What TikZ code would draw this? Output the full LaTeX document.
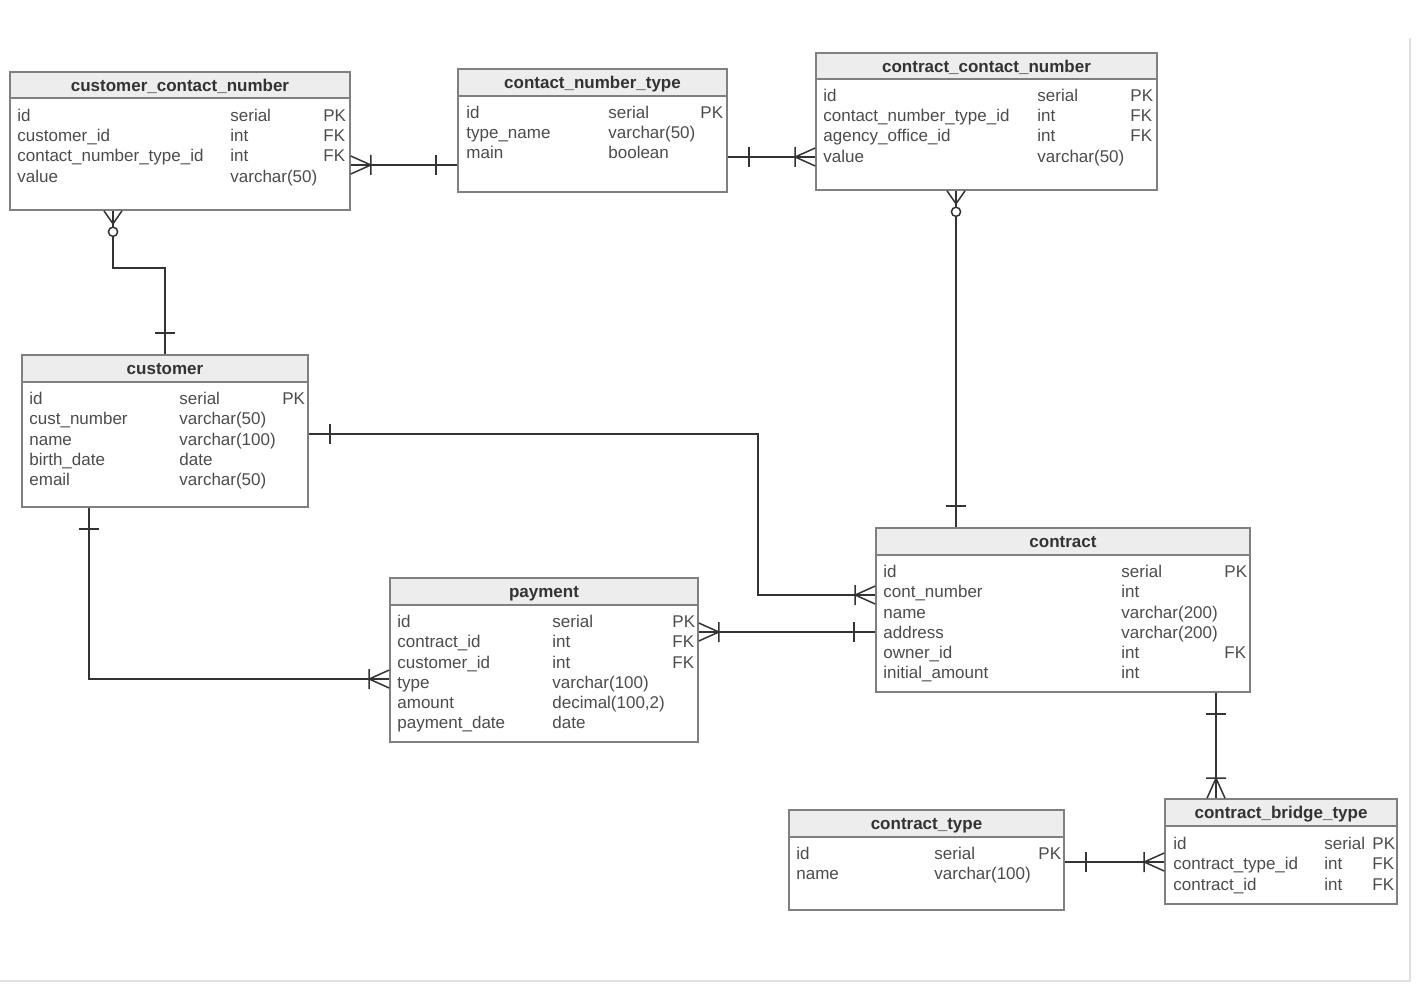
\documentclass[tikz,border=0pt]{standalone}
\usepackage{fontspec}
\setmainfont{Liberation Sans}
\usetikzlibrary{fit,decorations.markings}
\definecolor{boxgray}{gray}{0.5}
\definecolor{headgray}{gray}{0.93}
\definecolor{txtgray}{gray}{0.3}

\begin{document}
\begin{tikzpicture}[x=0.5pt,y=-0.5pt,
  every node/.style={font=\fontsize{8.5}{10}\selectfont},
  tbl/.style={draw=boxgray, line width=0.8pt, fill=white, inner sep=0pt},
  hdr/.style={draw=boxgray, line width=0.8pt, fill=headgray, inner sep=0pt},
  ttl/.style={font=\fontsize{8.5}{10}\selectfont\bfseries, text=black!80, inner sep=0pt, text height=7.2pt, text depth=0.8pt},
  fld/.style={anchor=west, inner sep=0pt, text height=7.2pt, text depth=0.8pt, text=txtgray},
  link/.style={draw=black!80, line width=0.75pt},
  crow start/.style={postaction={decorate, decoration={markings, mark=at position 0 with {\draw[link] (0,4.5pt) -- (10pt,0) -- (0,-4.5pt) (10pt,5pt) -- (10pt,-5pt);}}}},
  crow end/.style={postaction={decorate, decoration={markings, mark=at position 1 with {\draw[link] (0,4.5pt) -- (-10pt,0) -- (0,-4.5pt) (-10pt,5pt) -- (-10pt,-5pt);}}}},
  one start/.style={postaction={decorate, decoration={markings, mark=at position 0 with {\draw[link] (10.5pt,5pt) -- (10.5pt,-5pt);}}}},
  one end/.style={postaction={decorate, decoration={markings, mark=at position 1 with {\draw[link] (-10.5pt,5pt) -- (-10.5pt,-5pt);}}}},
  zcrow start/.style={postaction={decorate, decoration={markings, mark=at position 0 with {\draw[link] (0,4.5pt) -- (6.5pt,0) -- (0,-4.5pt); \filldraw[link, fill=white] (10.5pt,0) circle (2.3pt);}}}}
]
\useasboundingbox (0,0) rectangle (1416,984);
\draw[draw=gray!25, line width=0.8pt] (0,981) -- (1410,981) -- (1410,38);

% tables
\node[tbl, fit={(10,72) (350,210)}] (ccn) {};
\node[hdr, fit={(10,72) (350,98)}] (ccn-h) {};
\node[ttl] (ccn-t) at (ccn-h) {customer\_contact\_number};
\foreach \fn/\ft/\fk [count=\i from 0] in {id/serial/PK, customer\_id/int/FK, contact\_number\_type\_id/int/FK, value/{varchar(50)}/{}} {
  \node[fld] (ccn-n\i) at (17,115+20.3*\i) {\fn};
  \node[fld] (ccn-y\i) at (230,115+20.3*\i) {\ft};
  \node[fld] (ccn-k\i) at (323,115+20.3*\i) {\fk};
}

\node[tbl, fit={(458,69) (727,192)}] (cnt) {};
\node[hdr, fit={(458,69) (727,96)}] (cnt-h) {};
\node[ttl] (cnt-t) at (cnt-h) {contact\_number\_type};
\foreach \fn/\ft/\fk [count=\i from 0] in {id/serial/PK, type\_name/{varchar(50)}/{}, main/boolean/{}} {
  \node[fld] (cnt-n\i) at (466,112+20.3*\i) {\fn};
  \node[fld] (cnt-y\i) at (608,112+20.3*\i) {\ft};
  \node[fld] (cnt-k\i) at (700,112+20.3*\i) {\fk};
}

\node[tbl, fit={(816,53) (1157,190)}] (cct) {};
\node[hdr, fit={(816,53) (1157,79)}] (cct-h) {};
\node[ttl] (cct-t) at (cct-h) {contract\_contact\_number};
\foreach \fn/\ft/\fk [count=\i from 0] in {id/serial/PK, contact\_number\_type\_id/int/FK, agency\_office\_id/int/FK, value/{varchar(50)}/{}} {
  \node[fld] (cct-n\i) at (823,95+20.3*\i) {\fn};
  \node[fld] (cct-y\i) at (1037,95+20.3*\i) {\ft};
  \node[fld] (cct-k\i) at (1130,95+20.3*\i) {\fk};
}

\node[tbl, fit={(22,355) (308,507)}] (cus) {};
\node[hdr, fit={(22,355) (308,382)}] (cus-h) {};
\node[ttl] (cus-t) at (cus-h) {customer};
\foreach \fn/\ft/\fk [count=\i from 0] in {id/serial/PK, cust\_number/{varchar(50)}/{}, name/{varchar(100)}/{}, birth\_date/date/{}, email/{varchar(50)}/{}} {
  \node[fld] (cus-n\i) at (29,398+20.3*\i) {\fn};
  \node[fld] (cus-y\i) at (179,398+20.3*\i) {\ft};
  \node[fld] (cus-k\i) at (282,398+20.3*\i) {\fk};
}

\node[tbl, fit={(390,578) (698,742)}] (pay) {};
\node[hdr, fit={(390,578) (698,605)}] (pay-h) {};
\node[ttl] (pay-t) at (pay-h) {payment};
\foreach \fn/\ft/\fk [count=\i from 0] in {id/serial/PK, contract\_id/int/FK, customer\_id/int/FK, type/{varchar(100)}/{}, amount/{decimal(100,2)}/{}, payment\_date/date/{}} {
  \node[fld] (pay-n\i) at (397,621+20.3*\i) {\fn};
  \node[fld] (pay-y\i) at (552,621+20.3*\i) {\ft};
  \node[fld] (pay-k\i) at (672,621+20.3*\i) {\fk};
}

\node[tbl, fit={(876,528) (1250,692)}] (con) {};
\node[hdr, fit={(876,528) (1250,555)}] (con-h) {};
\node[ttl] (con-t) at (con-h) {contract};
\foreach \fn/\ft/\fk [count=\i from 0] in {id/serial/PK, cont\_number/int/{}, name/{varchar(200)}/{}, address/{varchar(200)}/{}, owner\_id/int/FK, initial\_amount/int/{}} {
  \node[fld] (con-n\i) at (883,571+20.3*\i) {\fn};
  \node[fld] (con-y\i) at (1121,571+20.3*\i) {\ft};
  \node[fld] (con-k\i) at (1224,571+20.3*\i) {\fk};
}

\node[tbl, fit={(789,810) (1064,910)}] (cty) {};
\node[hdr, fit={(789,810) (1064,837)}] (cty-h) {};
\node[ttl] (cty-t) at (cty-h) {contract\_type};
\foreach \fn/\ft/\fk [count=\i from 0] in {id/serial/PK, name/{varchar(100)}/{}} {
  \node[fld] (cty-n\i) at (796,853+20.3*\i) {\fn};
  \node[fld] (cty-y\i) at (934,853+20.3*\i) {\ft};
  \node[fld] (cty-k\i) at (1038,853+20.3*\i) {\fk};
}

\node[tbl, fit={(1165,799) (1397,904)}] (cbt) {};
\node[hdr, fit={(1165,799) (1397,826)}] (cbt-h) {};
\node[ttl] (cbt-t) at (cbt-h) {contract\_bridge\_type};
\foreach \fn/\ft/\fk [count=\i from 0] in {id/serial/PK, contract\_type\_id/int/FK, contract\_id/int/FK} {
  \node[fld] (cbt-n\i) at (1173,843+20.3*\i) {\fn};
  \node[fld] (cbt-y\i) at (1324,843+20.3*\i) {\ft};
  \node[fld] (cbt-k\i) at (1372,843+20.3*\i) {\fk};
}

% draw the relations
\draw[link, crow start, one end] (ccn.east |- 0,165) -- (cnt.west |- 0,165);
\draw[link, one start, crow end] (cnt.east |- 0,157) -- (cct.west |- 0,157);
\draw[link, zcrow start, one end] (ccn.south -| 113,0) -- (113,268) -| (cus.north);
\draw[link, zcrow start, one end] (cct.south -| 956,0) -- (con.north -| 956,0);
\draw[link, one start, crow end] (cus.east |- 0,434) -| (758,595) -- (con.west |- 0,595);
\draw[link, crow start, one end] (pay.east |- 0,632) -- (con.west |- 0,632);
\draw[link, one start, crow end] (cus.south -| 89,0) |- (pay.west |- 0,679);
\draw[link, one start, crow end] (con.south -| 1216,0) -- (cbt.north -| 1216,0);
\draw[link, one start, crow end] (cty.east |- 0,862) -- (cbt.west |- 0,862);

\end{tikzpicture}
\end{document}
